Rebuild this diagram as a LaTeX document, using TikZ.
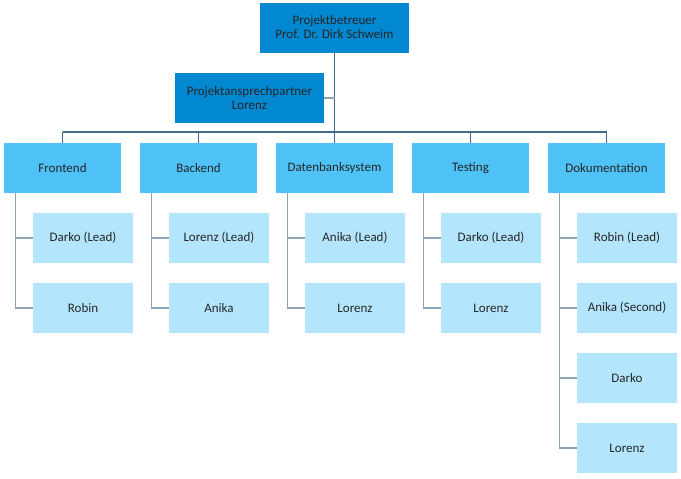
\documentclass[tikz,border=0pt]{standalone}
\usepackage{fontspec}
\setmainfont{Carlito}
\begin{document}
\begin{tikzpicture}[x=1pt,y=-1pt,
  box/.style={draw=none,minimum width=#1,minimum height=50pt,inner sep=0pt,align=center,font=\fontsize{13}{14}\selectfont,text=black!85},
  topbox/.style={box=149pt,fill=topblue},
  deptbox/.style={box=117pt,fill=deptblue},
  childbox/.style={box=100pt,fill=childblue},
  darkline/.style={draw=linedark,line width=1.2pt},
  greyline/.style={draw=linegrey,line width=1.2pt}]
\definecolor{topblue}{HTML}{0288D1}
\definecolor{deptblue}{HTML}{4FC3F7}
\definecolor{childblue}{HTML}{B3E5FC}
\definecolor{linedark}{HTML}{3F6A88}
\definecolor{linegrey}{HTML}{8FA3B3}
\useasboundingbox (0,0) rectangle (681,479);
\node[topbox] (top) at (334.5,27.5) {Projektbetreuer\\Prof. Dr. Dirk Schweim};
\node[topbox] (asst) at (249.5,98) {Projektansprechpartner\\Lorenz};
\node[deptbox] (fe) at (62.5,168) {Frontend};
\node[deptbox] (be) at (198.5,168) {Backend};
\node[deptbox] (db) at (334.5,168) {Datenbanksystem};
\node[deptbox] (te) at (470.5,168) {Testing};
\node[deptbox] (doc) at (606.5,168) {Dokumentation};
\coordinate (busL) at (62.5,132);
\coordinate (busR) at (606.5,132);
\coordinate (busM) at (334.5,132);
\draw[darkline] (top.south) -- (busM);
\draw[greyline] (asst.east) -- (asst.east -| top.south);
\draw[darkline] (busL) -- (busR);
\foreach \d in {fe,be,db,te,doc}{
  \draw[darkline] (\d.north |- busL) -- (\d.north);
}
\foreach \d/\x/\names in {fe/83/{Darko (Lead),Robin},be/219/{Lorenz (Lead),Anika},db/355/{Anika (Lead),Lorenz},te/491/{Darko (Lead),Lorenz},doc/627/{Robin (Lead),Anika (Second),Darko,Lorenz}}{
  \foreach \n [count=\i] in \names {
    \node[childbox] (\d c\i) at (\x,168+70*\i) {\n};
  }
}
\foreach \d/\k in {fe/2,be/2,db/2,te/2,doc/4}{
  \coordinate (\d rail) at ([xshift=12pt]\d.south west);
  \draw[greyline] (\d rail) |- (\d c\k.west);
  \foreach \i in {1,...,\k}{
    \draw[greyline] (\d c\i.west -| \d rail) -- (\d c\i.west);
  }
}
\end{tikzpicture}
\end{document}
